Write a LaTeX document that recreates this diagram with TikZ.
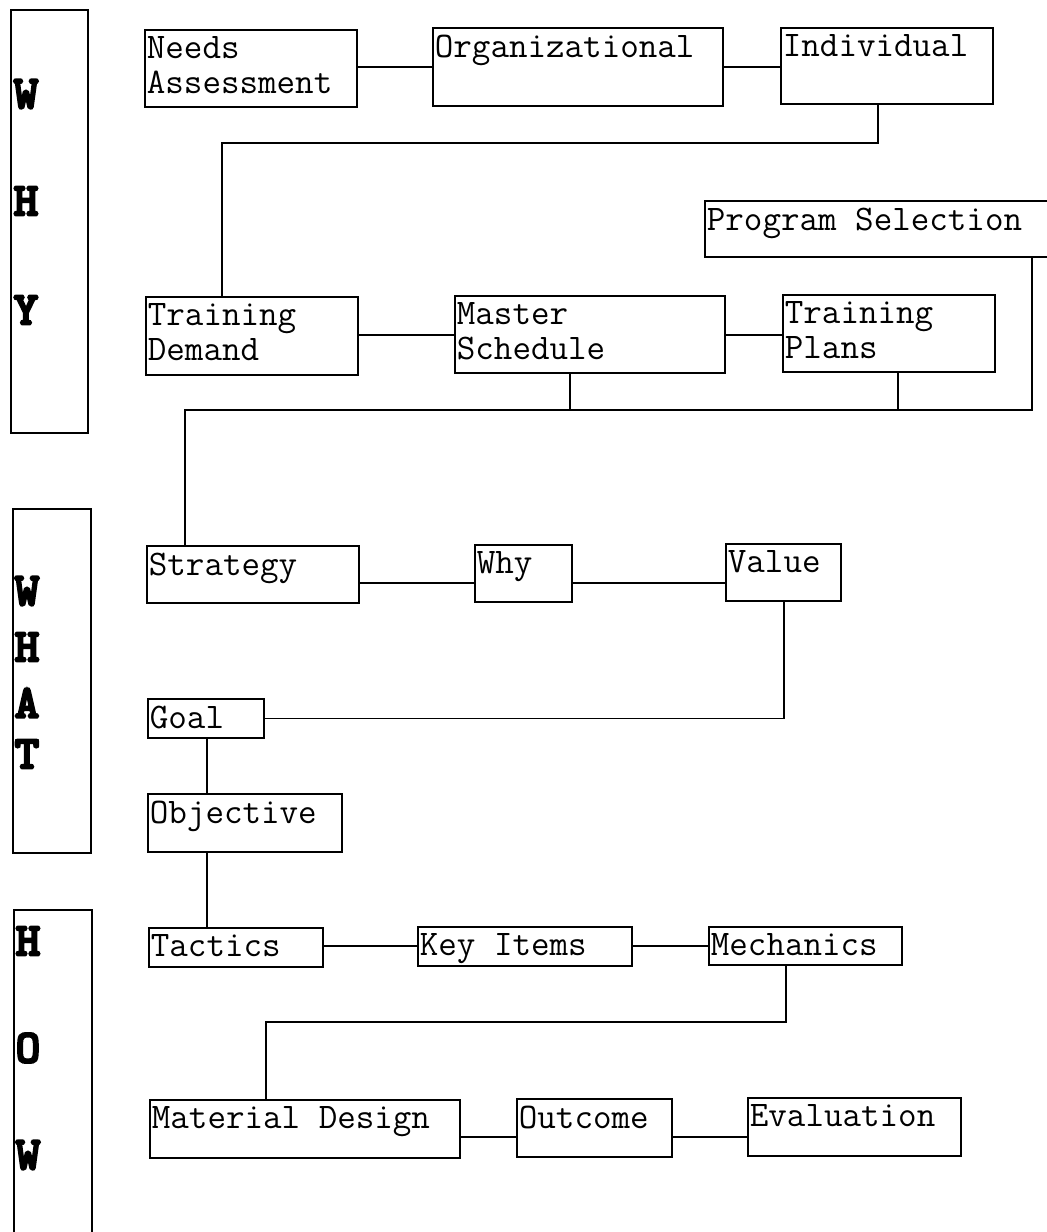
\documentclass[tikz,border=0pt]{standalone}
\usepackage{fontspec}
\newfontfamily\sidefamily{lmmono10-regular.otf}[FakeBold=6]
\newcommand{\boxfont}{\ttfamily\fontsize{36}{35}\selectfont}
\newcommand{\sidefont}{\sidefamily\fontsize{46}{46}\selectfont}
\begin{document}
\begin{tikzpicture}[x=1pt, y=-1pt, line width=1.8pt,
    box/.style={draw, rectangle, anchor=north west, inner sep=0pt, outer sep=0pt},
    txt/.style={anchor=north west, inner sep=0pt, align=left, font=\boxfont, xshift=1pt, yshift=-6pt},
    side/.style={anchor=west, inner sep=0pt, font=\sidefont}]
    \useasboundingbox[fill=white] (0,0) rectangle (1047,1232);
    % Side bars
    \draw (11,10) rectangle (88,433);
    \node[side] (why-w) at (13,94) {W};
    \node[side] (why-h) at (13,201) {H};
    \node[side] (why-y) at (13,310) {Y};
    \draw (13,509) rectangle (91,853);
    \node[side] (what-w) at (14,591) {W};
    \node[side] (what-h) at (14,647) {H};
    \node[side] (what-a) at (14,703) {A};
    \node[side] (what-t) at (14,754) {T};
    \draw (14,1240) -- (14,910) -- (92,910) -- (92,1240);
    \node[side] (how-h) at (15,941) {H};
    \node[side] (how-o) at (15,1048) {O};
    \node[side] (how-w) at (15,1155) {W};
    % WHY boxes
    \node[box, minimum width=212pt, minimum height=77pt, label={[txt]north west:Needs\\Assessment}] (needs) at (145,30) {};
    \node[box, minimum width=290pt, minimum height=78pt, label={[txt]north west:Organizational}] (org) at (433,28) {};
    \node[box, minimum width=212pt, minimum height=76pt, label={[txt]north west:Individual}] (indiv) at (781,28) {};
    \node[box, minimum width=350pt, minimum height=56pt, label={[txt]north west:Program Selection}] (progsel) at (705,201) {};
    \node[box, minimum width=212pt, minimum height=78pt, label={[txt]north west:Training\\Demand}] (demand) at (146,297) {};
    \node[box, minimum width=270pt, minimum height=77pt, label={[txt]north west:Master\\Schedule}] (master) at (455,296) {};
    \node[box, minimum width=212pt, minimum height=77pt, label={[txt]north west:Training\\Plans}] (plans) at (783,295) {};
    % WHAT boxes
    \node[box, minimum width=212pt, minimum height=57pt, label={[txt]north west:Strategy}] (strategy) at (147,546) {};
    \node[box, minimum width=97pt, minimum height=57pt, label={[txt]north west:Why}] (why) at (475,545) {};
    \node[box, minimum width=115pt, minimum height=57pt, label={[txt]north west:Value}] (value) at (726,544) {};
    \node[box, minimum width=116pt, minimum height=39pt, label={[txt]north west:Goal}] (goal) at (148,699) {};
    \node[box, minimum width=194pt, minimum height=58pt, label={[txt]north west:Objective}] (objective) at (148,794) {};
    % HOW boxes
    \node[box, minimum width=174pt, minimum height=39pt, label={[txt]north west:Tactics}] (tactics) at (149,928) {};
    \node[box, minimum width=214pt, minimum height=39pt, label={[txt]north west:Key Items}] (keyitems) at (418,927) {};
    \node[box, minimum width=193pt, minimum height=38pt, label={[txt]north west:Mechanics}] (mechanics) at (709,927) {};
    \node[box, minimum width=310pt, minimum height=58pt, label={[txt]north west:Material Design}] (material) at (150,1100) {};
    \node[box, minimum width=155pt, minimum height=58pt, label={[txt]north west:Outcome}] (outcome) at (517,1099) {};
    \node[box, minimum width=213pt, minimum height=58pt, label={[txt]north west:Evaluation}] (evaluation) at (748,1098) {};
    % Bend points
    \coordinate (k1) at (878,143);
    \coordinate (k2) at (222,143);
    \coordinate (k3) at (1032,410);
    \coordinate (k4) at (185,410);
    \coordinate (k5) at (570,410);
    \coordinate (k6) at (898,410);
    \coordinate (k7) at (786,1022);
    \coordinate (k8) at (266,1022);
    \coordinate (r1) at (0,67);
    \coordinate (r2) at (0,335);
    \coordinate (r3) at (0,583);
    \coordinate (r4) at (0,946);
    \coordinate (r5) at (0,1137);
    % WHY connectors
    \draw (needs.east |- r1) -- (org.west |- r1);
    \draw (org.east |- r1) -- (indiv.west |- r1);
    \draw (k1 |- indiv.south) -- (k1) -- (k2) -- (k2 |- demand.north);
    \draw (demand.east |- r2) -- (master.west |- r2);
    \draw (master.east |- r2) -- (plans.west |- r2);
    \draw (k3 |- progsel.south) -- (k3) -- (k4) -- (k4 |- strategy.north);
    \draw (k5 |- master.south) -- (k5);
    \draw (k6 |- plans.south) -- (k6);
    % WHAT connectors
    \draw (strategy.east |- r3) -- (why.west |- r3);
    \draw (why.east |- r3) -- (value.west |- r3);
    \draw (value.south -| 784,0) |- (goal.east);
    \draw (goal.south -| 207,0) -- (objective.north -| 207,0);
    \draw (objective.south -| 207,0) -- (tactics.north -| 207,0);
    % HOW connectors
    \draw (tactics.east |- r4) -- (keyitems.west |- r4);
    \draw (keyitems.east |- r4) -- (mechanics.west |- r4);
    \draw (k7 |- mechanics.south) -- (k7) -- (k8) -- (k8 |- material.north);
    \draw (material.east |- r5) -- (outcome.west |- r5);
    \draw (outcome.east |- r5) -- (evaluation.west |- r5);
\end{tikzpicture}
\end{document}
